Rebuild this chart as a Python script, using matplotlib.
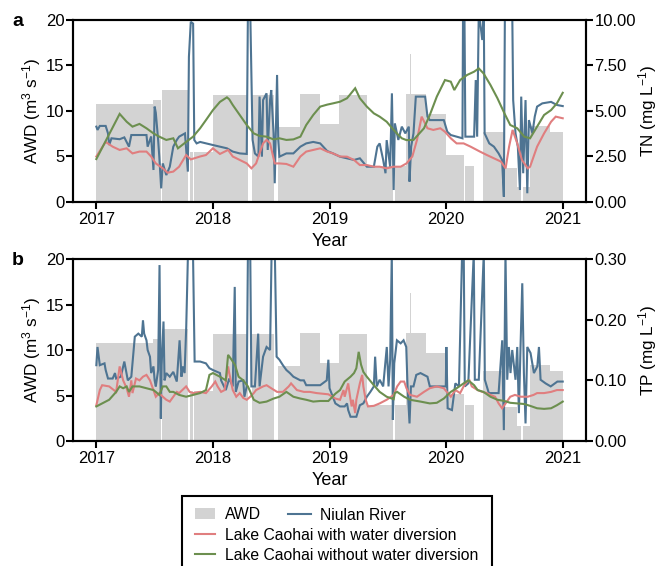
import matplotlib
matplotlib.use('Agg')
import matplotlib.pyplot as plt
from matplotlib.patches import Patch, Rectangle
from matplotlib.lines import Line2D
from matplotlib.ticker import FormatStrFormatter

plt.rcParams['font.family'] = ['Liberation Sans', 'DejaVu Sans']
plt.rcParams['mathtext.default'] = 'regular'

# ---------------- data ----------------
# AWD (m3/s), step series: start year of each level
awd_t = [2017.00, 2017.49, 2017.553, 2017.56, 2017.79, 2017.805, 2017.825, 2017.835,
         2018.00, 2018.30, 2018.335, 2018.52, 2018.56, 2018.75, 2018.92, 2019.08,
         2019.32, 2019.545, 2019.56, 2019.66, 2019.69, 2019.70, 2019.83, 2020.00,
         2020.15, 2020.16, 2020.24, 2020.32, 2020.50, 2020.61, 2020.64, 2020.66,
         2020.72, 2020.89, 2021.00]
awd_v = [10.8, 11.2, 0.0, 12.3, 0.0, 5.5, 0.0, 5.45,
         11.8, 0.0, 11.8, 0.0, 8.2, 11.9, 8.6, 11.8,
         4.0, 0.0, 4.0, 11.9, 16.3, 11.9, 9.7, 5.2,
         0.0, 4.0, 0.0, 7.7, 3.7, 1.7, 0.0, 1.7,
         8.3, 7.7, 7.7]

# TN (mg/L) - Lake Caohai without water diversion
tn_green_t = [2017.00, 2017.10, 2017.20, 2017.26, 2017.31, 2017.37, 2017.43, 2017.49, 2017.54,
              2017.60, 2017.66, 2017.70, 2017.77, 2017.83, 2017.89, 2017.94, 2018.00, 2018.06,
              2018.12, 2018.14, 2018.17, 2018.23, 2018.29, 2018.35, 2018.40, 2018.46, 2018.52,
              2018.57, 2018.63, 2018.69, 2018.75, 2018.80, 2018.86, 2018.92, 2018.98, 2019.03,
              2019.09, 2019.15, 2019.22, 2019.26, 2019.32, 2019.38, 2019.43, 2019.49, 2019.55,
              2019.58, 2019.62, 2019.66, 2019.72, 2019.81, 2019.86, 2019.92, 2019.99, 2020.04,
              2020.07, 2020.12, 2020.18, 2020.24, 2020.28, 2020.32, 2020.38, 2020.44, 2020.50,
              2020.55, 2020.61, 2020.67, 2020.72, 2020.78, 2020.84, 2020.90, 2020.95, 2021.00]
tn_green_v = [2.36, 3.60, 4.84, 4.41, 4.14, 4.29, 4.05, 3.77, 3.59,
              3.41, 3.50, 2.95, 3.30, 3.59, 4.05, 4.50, 5.05, 5.50,
              5.75, 5.64, 5.33, 4.78, 4.23, 3.77, 3.63, 3.59, 3.44,
              3.50, 3.41, 3.44, 3.59, 4.23, 4.78, 5.24, 5.35, 5.42,
              5.51, 5.70, 6.25, 5.70, 5.24, 4.87, 4.69, 4.41, 3.96,
              3.75, 3.50, 3.40, 3.41, 4.05, 4.78, 5.79, 6.70, 6.61,
              6.15, 6.70, 6.98, 7.16, 7.34, 7.07, 6.43, 5.70, 4.87,
              4.23, 4.05, 3.59, 3.50, 4.14, 4.78, 5.05, 5.42, 6.00]

# TN (mg/L) - Lake Caohai with water diversion
tn_pink_t = [2017.00, 2017.08, 2017.14, 2017.20, 2017.26, 2017.31, 2017.37, 2017.43, 2017.47,
             2017.51, 2017.57, 2017.61, 2017.66, 2017.71, 2017.77, 2017.81, 2017.89, 2017.94,
             2018.00, 2018.06, 2018.13, 2018.17, 2018.23, 2018.29, 2018.33, 2018.37, 2018.43,
             2018.46, 2018.49, 2018.53, 2018.57, 2018.63, 2018.69, 2018.75, 2018.80, 2018.86,
             2018.92, 2018.98, 2019.03, 2019.09, 2019.15, 2019.21, 2019.26, 2019.32, 2019.38,
             2019.43, 2019.49, 2019.55, 2019.61, 2019.66, 2019.71, 2019.75, 2019.79, 2019.84,
             2019.89, 2019.95, 2019.99, 2020.04, 2020.09, 2020.15, 2020.21, 2020.29, 2020.35,
             2020.41, 2020.47, 2020.51, 2020.54, 2020.57, 2020.61, 2020.65, 2020.70, 2020.72,
             2020.78, 2020.84, 2020.90, 2020.94, 2021.00]
tn_pink_v = [2.50, 3.30, 3.04, 2.86, 2.95, 2.67, 2.77, 2.77, 2.50,
             2.12, 1.85, 1.61, 1.67, 1.94, 2.58, 2.34, 2.50, 2.58,
             2.95, 2.64, 2.86, 2.50, 2.31, 2.12, 1.85, 2.12, 3.22,
             3.41, 3.22, 2.12, 2.12, 2.09, 1.94, 2.50, 2.77, 2.86,
             2.95, 2.77, 2.67, 2.50, 2.49, 2.31, 2.03, 2.03, 1.94,
             1.94, 1.85, 1.94, 1.94, 2.12, 2.50, 3.41, 4.69, 4.05,
             3.96, 4.05, 3.86, 3.50, 3.22, 3.22, 3.04, 2.77, 2.58,
             2.40, 2.22, 1.85, 3.04, 3.96, 3.22, 2.31, 1.85, 1.94,
             3.04, 3.77, 4.41, 4.69, 4.60]

# TN (mg/L) - Niulan River
tn_blue_t = [2017.00, 2017.01, 2017.03, 2017.08, 2017.10, 2017.11, 2017.13, 2017.20, 2017.24,
             2017.28, 2017.30, 2017.43, 2017.44, 2017.47, 2017.49, 2017.50, 2017.51, 2017.53,
             2017.54, 2017.556, 2017.57, 2017.60, 2017.63, 2017.66, 2017.69, 2017.71, 2017.76,
             2017.785, 2017.794, 2017.81, 2017.83, 2017.84, 2017.86, 2017.89, 2017.94, 2018.00,
             2018.06, 2018.12, 2018.17, 2018.23, 2018.29, 2018.30, 2018.32, 2018.34, 2018.36,
             2018.39, 2018.40, 2018.42, 2018.43, 2018.46, 2018.47, 2018.49, 2018.50, 2018.52,
             2018.53, 2018.55, 2018.56, 2018.57, 2018.63, 2018.69, 2018.75, 2018.80, 2018.86,
             2018.92, 2018.98, 2019.03, 2019.09, 2019.15, 2019.21, 2019.26, 2019.32, 2019.38,
             2019.41, 2019.43, 2019.46, 2019.48, 2019.49, 2019.52, 2019.535, 2019.55, 2019.56,
             2019.59, 2019.62, 2019.65, 2019.68, 2019.686, 2019.70, 2019.72, 2019.74, 2019.82,
             2019.84, 2019.86, 2019.98, 2020.01, 2020.04, 2020.09, 2020.14, 2020.145, 2020.157,
             2020.165, 2020.24, 2020.254, 2020.266, 2020.28, 2020.31, 2020.323, 2020.33, 2020.37,
             2020.41, 2020.45, 2020.48, 2020.495, 2020.504, 2020.567, 2020.575, 2020.595, 2020.615,
             2020.633, 2020.644, 2020.661, 2020.681, 2020.696, 2020.71, 2020.74, 2020.76, 2020.78,
             2020.825, 2020.90, 2020.95, 2021.00]
tn_blue_v = [4.14, 3.96, 4.18, 4.18, 3.77, 3.13, 3.50, 3.45, 3.55,
             3.04, 3.68, 3.68, 3.04, 3.60, 1.76, 5.24, 4.90, 3.41,
             2.49, 0.75, 2.12, 1.48, 1.94, 3.04, 3.41, 3.59, 3.77,
             1.67, 7.98, 9.90, 9.80, 3.41, 3.22, 3.30, 3.22, 3.13,
             3.04, 2.95, 2.77, 2.67, 2.64, 10.5, 10.5, 3.41, 2.67,
             2.49, 5.79, 2.49, 5.60, 5.97, 2.86, 5.60, 6.15, 3.77,
             1.03, 6.98, 3.41, 2.49, 2.67, 2.67, 3.04, 3.22, 3.30,
             3.22, 2.80, 2.67, 2.49, 2.40, 2.31, 2.40, 1.94, 1.94,
             3.04, 3.22, 2.31, 1.58, 3.40, 1.94, 5.97, 0.66, 4.32,
             3.41, 4.14, 3.77, 4.14, 1.12, 3.04, 3.77, 5.79, 5.79,
             4.69, 4.50, 4.50, 3.86, 3.68, 3.59, 3.50, 10.5, 10.5,
             3.59, 3.59, 6.70, 3.59, 10.5, 8.90, 10.5, 3.77, 3.22,
             3.04, 2.67, 2.31, 0.29, 10.5, 10.5, 5.60, 3.77, 3.04,
             0.66, 5.79, 1.58, 5.60, 0.48, 4.50, 3.77, 4.69, 5.24,
             5.42, 5.50, 5.33, 5.27]

# TP (mg/L) - Lake Caohai without water diversion
tp_green_t = [2017.00, 2017.05, 2017.11, 2017.17, 2017.20, 2017.23, 2017.26, 2017.28, 2017.31,
              2017.37, 2017.43, 2017.49, 2017.51, 2017.54, 2017.57, 2017.60, 2017.63, 2017.66,
              2017.71, 2017.77, 2017.83, 2017.89, 2017.94, 2017.97, 2018.00, 2018.06, 2018.11,
              2018.13, 2018.16, 2018.19, 2018.22, 2018.26, 2018.30, 2018.35, 2018.40, 2018.46,
              2018.52, 2018.57, 2018.63, 2018.69, 2018.75, 2018.80, 2018.86, 2018.92, 2018.99,
              2019.05, 2019.09, 2019.13, 2019.18, 2019.21, 2019.23, 2019.25, 2019.27, 2019.29,
              2019.32, 2019.38, 2019.43, 2019.49, 2019.55, 2019.56, 2019.58, 2019.64, 2019.69,
              2019.78, 2019.86, 2019.92, 2019.98, 2020.04, 2020.09, 2020.15, 2020.19, 2020.24,
              2020.27, 2020.32, 2020.38, 2020.44, 2020.50, 2020.55, 2020.61, 2020.67, 2020.72,
              2020.78, 2020.84, 2020.90, 2020.95, 2021.00]
tp_green_v = [0.057, 0.062, 0.068, 0.081, 0.090, 0.087, 0.090, 0.081, 0.090,
              0.090, 0.087, 0.084, 0.081, 0.076, 0.090, 0.090, 0.081, 0.081,
              0.076, 0.073, 0.076, 0.079, 0.084, 0.109, 0.112, 0.106, 0.100,
              0.142, 0.134, 0.125, 0.106, 0.100, 0.090, 0.068, 0.063, 0.065,
              0.070, 0.073, 0.081, 0.073, 0.070, 0.068, 0.065, 0.066, 0.066,
              0.078, 0.084, 0.098, 0.106, 0.112, 0.120, 0.147, 0.126, 0.114,
              0.106, 0.092, 0.081, 0.073, 0.069, 0.079, 0.081, 0.073, 0.068,
              0.065, 0.062, 0.063, 0.070, 0.081, 0.087, 0.095, 0.100, 0.092,
              0.084, 0.081, 0.073, 0.068, 0.066, 0.063, 0.062, 0.061, 0.058,
              0.054, 0.053, 0.054, 0.059, 0.065]

# TP (mg/L) - Lake Caohai with water diversion
tp_pink_t = [2017.00, 2017.03, 2017.05, 2017.11, 2017.17, 2017.20, 2017.23, 2017.26, 2017.28,
             2017.30, 2017.31, 2017.34, 2017.37, 2017.40, 2017.43, 2017.46, 2017.49, 2017.51,
             2017.54, 2017.57, 2017.60, 2017.63, 2017.66, 2017.69, 2017.71, 2017.77, 2017.80,
             2017.83, 2017.89, 2017.94, 2017.99, 2018.02, 2018.04, 2018.07, 2018.10, 2018.13,
             2018.14, 2018.17, 2018.20, 2018.23, 2018.26, 2018.29, 2018.32, 2018.35, 2018.37,
             2018.43, 2018.46, 2018.50, 2018.55, 2018.60, 2018.65, 2018.67, 2018.72, 2018.78,
             2018.83, 2018.89, 2018.99, 2019.05, 2019.09, 2019.12, 2019.13, 2019.16, 2019.18,
             2019.19, 2019.20, 2019.22, 2019.23, 2019.26, 2019.28, 2019.29, 2019.31, 2019.33,
             2019.38, 2019.43, 2019.49, 2019.55, 2019.58, 2019.61, 2019.64, 2019.66, 2019.69,
             2019.75, 2019.81, 2019.86, 2019.92, 2019.98, 2020.04, 2020.08, 2020.12, 2020.15,
             2020.18, 2020.20, 2020.22, 2020.27, 2020.31, 2020.35, 2020.38, 2020.42, 2020.45,
             2020.48, 2020.51, 2020.55, 2020.59, 2020.64, 2020.70, 2020.75, 2020.78, 2020.84,
             2020.90, 2020.95, 2021.00]
tp_pink_v = [0.059, 0.084, 0.092, 0.090, 0.081, 0.123, 0.100, 0.087, 0.073,
             0.100, 0.079, 0.103, 0.100, 0.106, 0.109, 0.100, 0.084, 0.073,
             0.079, 0.073, 0.068, 0.065, 0.073, 0.081, 0.079, 0.090, 0.081,
             0.079, 0.081, 0.079, 0.090, 0.098, 0.090, 0.081, 0.084, 0.123,
             0.112, 0.084, 0.073, 0.079, 0.071, 0.068, 0.073, 0.079, 0.084,
             0.090, 0.092, 0.087, 0.081, 0.081, 0.090, 0.095, 0.084, 0.081,
             0.081, 0.079, 0.077, 0.070, 0.068, 0.084, 0.073, 0.095, 0.068,
             0.057, 0.068, 0.046, 0.068, 0.095, 0.109, 0.090, 0.068, 0.057,
             0.058, 0.062, 0.068, 0.076, 0.090, 0.098, 0.098, 0.087, 0.076,
             0.073, 0.081, 0.087, 0.090, 0.087, 0.073, 0.084, 0.079, 0.090,
             0.098, 0.100, 0.090, 0.084, 0.081, 0.079, 0.076, 0.073, 0.062,
             0.054, 0.062, 0.073, 0.076, 0.073, 0.073, 0.076, 0.079, 0.079,
             0.081, 0.084, 0.084]

# TP (mg/L) - Niulan River
tp_blue_t = [2017.00, 2017.01, 2017.03, 2017.07, 2017.08, 2017.10, 2017.14, 2017.16, 2017.17,
             2017.21, 2017.24, 2017.27, 2017.30, 2017.33, 2017.36, 2017.39, 2017.40, 2017.41,
             2017.43, 2017.44, 2017.46, 2017.47, 2017.49, 2017.50, 2017.51, 2017.53, 2017.542,
             2017.553, 2017.56, 2017.576, 2017.585, 2017.60, 2017.63, 2017.66, 2017.69, 2017.714,
             2017.73, 2017.74, 2017.757, 2017.771, 2017.786, 2017.829, 2017.843, 2017.89, 2017.94,
             2017.97, 2018.00, 2018.06, 2018.07, 2018.11, 2018.14, 2018.17, 2018.187, 2018.196,
             2018.22, 2018.26, 2018.27, 2018.29, 2018.30, 2018.32, 2018.33, 2018.36, 2018.388,
             2018.40, 2018.43, 2018.46, 2018.49, 2018.503, 2018.531, 2018.546, 2018.57, 2018.60,
             2018.63, 2018.66, 2018.69, 2018.72, 2018.75, 2018.78, 2018.80, 2018.86, 2018.92,
             2018.976, 2018.99, 2019.00, 2019.05, 2019.09, 2019.13, 2019.15, 2019.16, 2019.18,
             2019.23, 2019.26, 2019.29, 2019.32, 2019.35, 2019.38, 2019.391, 2019.405, 2019.43,
             2019.46, 2019.491, 2019.506, 2019.52, 2019.534, 2019.543, 2019.555, 2019.578, 2019.61,
             2019.635, 2019.658, 2019.669, 2019.686, 2019.698, 2019.72, 2019.744, 2019.78, 2019.84,
             2019.86, 2019.95, 2019.997, 2020.002, 2020.013, 2020.05, 2020.079, 2020.11, 2020.137,
             2020.151, 2020.16, 2020.19, 2020.237, 2020.246, 2020.28, 2020.323, 2020.332, 2020.366,
             2020.41, 2020.45, 2020.481, 2020.495, 2020.509, 2020.524, 2020.538, 2020.552, 2020.567,
             2020.595, 2020.61, 2020.624, 2020.638, 2020.653, 2020.667, 2020.681, 2020.696, 2020.724,
             2020.753, 2020.782, 2020.796, 2020.81, 2020.853, 2020.897, 2020.954, 2021.00]
tp_blue_v = [0.125, 0.155, 0.125, 0.128, 0.117, 0.103, 0.103, 0.112, 0.103,
             0.106, 0.131, 0.100, 0.106, 0.172, 0.177, 0.172, 0.199, 0.177,
             0.166, 0.150, 0.139, 0.112, 0.123, 0.100, 0.090, 0.117, 0.290,
             0.037, 0.125, 0.197, 0.100, 0.112, 0.106, 0.114, 0.098, 0.166,
             0.106, 0.123, 0.112, 0.188, 0.310, 0.310, 0.131, 0.131, 0.128,
             0.120, 0.117, 0.112, 0.100, 0.084, 0.103, 0.090, 0.254, 0.081,
             0.098, 0.100, 0.073, 0.090, 0.310, 0.310, 0.090, 0.090, 0.177,
             0.090, 0.139, 0.155, 0.150, 0.310, 0.310, 0.139, 0.134, 0.125,
             0.117, 0.112, 0.106, 0.103, 0.100, 0.100, 0.092, 0.092, 0.092,
             0.100, 0.134, 0.087, 0.062, 0.057, 0.057, 0.062, 0.051, 0.040,
             0.040, 0.059, 0.062, 0.073, 0.081, 0.090, 0.139, 0.090, 0.101,
             0.090, 0.155, 0.090, 0.134, 0.310, 0.035, 0.128, 0.166, 0.161,
             0.166, 0.155, 0.090, 0.029, 0.090, 0.090, 0.109, 0.112, 0.106,
             0.090, 0.090, 0.090, 0.155, 0.054, 0.051, 0.095, 0.090, 0.310,
             0.310, 0.090, 0.095, 0.310, 0.101, 0.101, 0.310, 0.101, 0.079,
             0.079, 0.079, 0.166, 0.018, 0.310, 0.101, 0.155, 0.112, 0.150,
             0.101, 0.155, 0.046, 0.155, 0.260, 0.112, 0.029, 0.155, 0.145,
             0.112, 0.123, 0.155, 0.101, 0.095, 0.090, 0.098, 0.098]

year_ticks = [2017, 2018, 2019, 2020, 2021]

# ---------------- style ----------------
C_AWD = '#d3d3d3'
C_BLUE = '#4e7492'
C_PINK = '#e07e7f'
C_GREEN = '#6c8f4f'
LW = 1.5
FS = 12
LFS = 13
YFS = 12.3

fig = plt.figure(figsize=(6.59, 5.66), dpi=100)

def make_panel(rect, right_label, right_lim, right_ticks, fmt, t_series, letter, letter_y):
    ax = fig.add_axes(rect)
    ax.fill_between(awd_t, awd_v, step='post', color=C_AWD, lw=0, zorder=1)
    ax.set_ylim(0, 20)
    ax.set_yticks([0, 5, 10, 15, 20])
    ax.set_xticks(year_ticks)
    ax.set_xticklabels([str(y) for y in year_ticks])
    ax.set_xlabel('Year', fontsize=LFS, labelpad=4)
    ax.set_ylabel('AWD (m$^3$ s$^{-1}$)', fontsize=YFS)
    ax.yaxis.set_label_coords(-0.058, 0.5)
    ax2 = ax.twinx()
    for (t, v, c) in t_series:
        ax2.plot(t, v, color=c, lw=LW, solid_joinstyle='miter')
    ax2.set_ylim(*right_lim)
    ax2.set_yticks(right_ticks)
    ax2.yaxis.set_major_formatter(FormatStrFormatter(fmt))
    ax2.set_ylabel(right_label, fontsize=YFS)
    ax2.yaxis.set_label_coords(1.098, 0.5)
    for a in (ax, ax2):
        for s in a.spines.values():
            s.set_linewidth(1.5)
        a.tick_params(axis='y', direction='out', length=5, width=1.5, labelsize=FS, pad=1)
        a.tick_params(axis='x', direction='out', length=5, width=1.5, labelsize=FS, pad=2.5)
    fig.text(0.027, letter_y, letter, fontsize=14, fontweight='bold', ha='center', va='center')
    return ax, ax2

make_panel([0.1108, 0.6431, 0.7785, 0.3216], 'TN (mg L$^{-1}$)', (0, 10),
           [0, 2.5, 5, 7.5, 10], '%.2f',
           [(tn_blue_t, tn_blue_v, C_BLUE), (tn_pink_t, tn_pink_v, C_PINK),
            (tn_green_t, tn_green_v, C_GREEN)], 'a', 1 - 22 / 566)

make_panel([0.1108, 0.2208, 0.7785, 0.3216], 'TP (mg L$^{-1}$)', (0, 0.3),
           [0, 0.1, 0.2, 0.3], '%.2f',
           [(tp_blue_t, tp_blue_v, C_BLUE), (tp_pink_t, tp_pink_v, C_PINK),
            (tp_green_t, tp_green_v, C_GREEN)], 'b', 1 - 261 / 566)

# ---------------- legend ----------------
h_awd = Patch(facecolor=C_AWD, edgecolor='none')
h_blue = Line2D([], [], color=C_BLUE, lw=LW)
h_pink = Line2D([], [], color=C_PINK, lw=LW)
h_green = Line2D([], [], color=C_GREEN, lw=LW)

fig.patches.append(Rectangle((182 / 659, -0.05), (492 - 182) / 659, 0.05 + 1 - 496 / 566,
                             transform=fig.transFigure, fill=False, edgecolor='black',
                             linewidth=1.5))
leg1 = fig.legend([h_awd, h_pink, h_green],
                  ['AWD', 'Lake Caohai with water diversion', 'Lake Caohai without water diversion'],
                  loc='center left', bbox_to_anchor=(195 / 659, 1 - 535 / 566),
                  fontsize=11.3, frameon=False, borderaxespad=0, handlelength=1.3,
                  handletextpad=0.6, labelspacing=0.33, borderpad=0)
leg2 = fig.legend([h_blue], ['Niulan River'], loc='center left',
                  bbox_to_anchor=(288 / 659, 1 - 515 / 566), frameon=False,
                  borderpad=0, borderaxespad=0, handlelength=1.45, handletextpad=0.6,
                  fontsize=11.3)

fig.savefig('out.png', dpi=100)
